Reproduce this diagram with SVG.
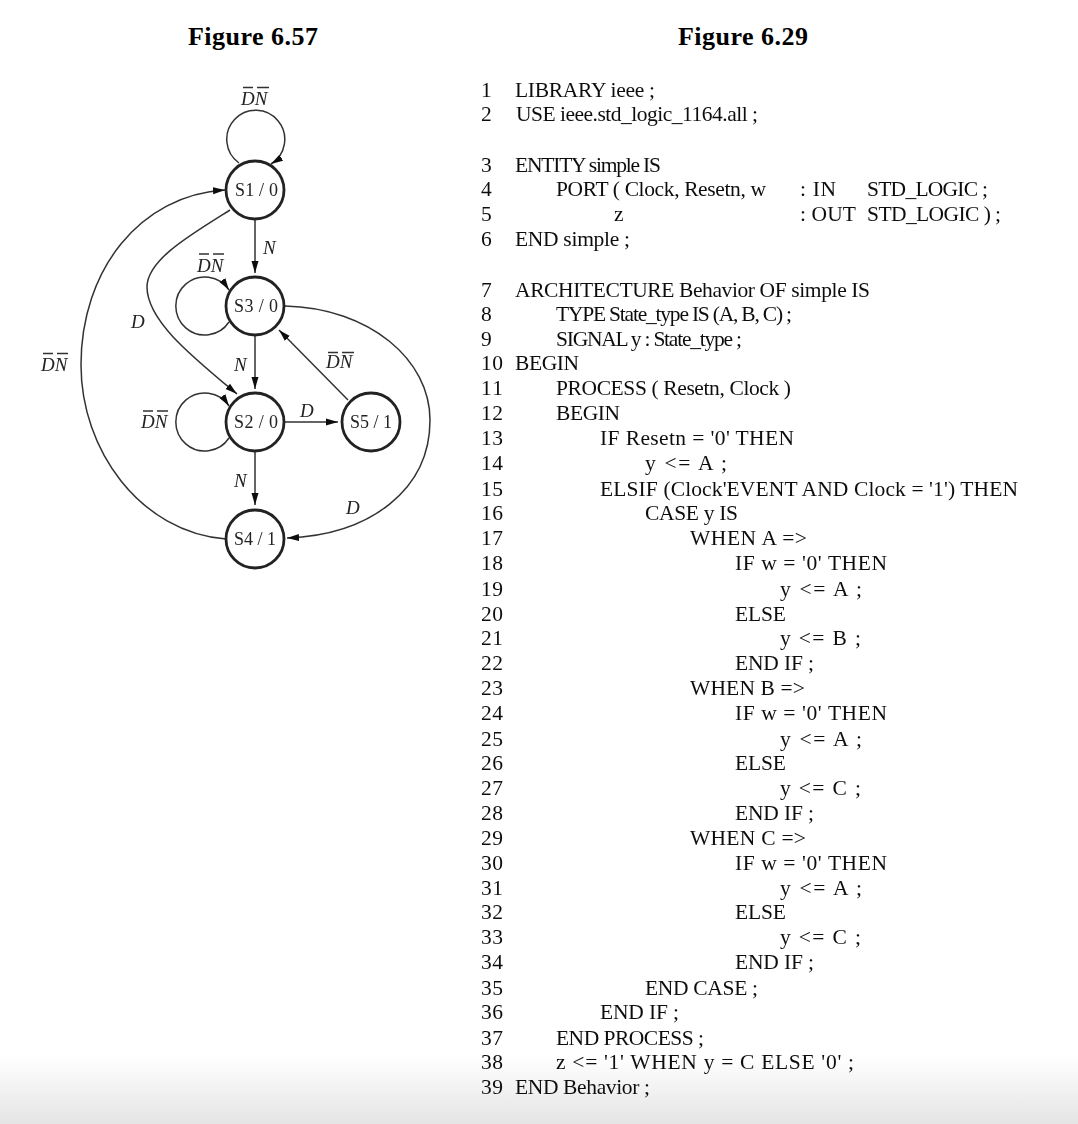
<svg xmlns="http://www.w3.org/2000/svg" width="1078" height="1124" viewBox="0 0 1078 1124">
<style>
text{font-family:"Liberation Serif","Times New Roman",serif;fill:#111}
.t{font-size:26px;font-weight:bold;fill:#000}
.c{font-size:21.500px}
.n{font-size:18px;fill:#222}
.i{font-size:19px;font-style:italic;fill:#222}
.s{fill:#fff;stroke:#222;stroke-width:2.8}
.e{fill:none;stroke:#333;stroke-width:1.5}
.b{stroke:#333;stroke-width:1.4}
.soft{filter:url(#soft)}
</style>
<defs>
<filter id="soft" x="0" y="0" width="1" height="1" filterUnits="objectBoundingBox"><feGaussianBlur stdDeviation="0.35"/></filter>
<linearGradient id="fade" x1="0" y1="0" x2="0" y2="1"><stop offset="0" stop-color="#fff"/><stop offset="1" stop-color="#e4e4e4"/></linearGradient>
<marker id="a" markerUnits="userSpaceOnUse" markerWidth="14" markerHeight="10" refX="12" refY="4" orient="auto"><path d="M0 0.500L12 4L0 7.500Z" fill="#111"/></marker>
</defs>
<rect width="1078" height="1124" fill="#fff"/>
<rect y="1056" width="1078" height="68" fill="url(#fade)"/>
<text class="t" x="188" y="45" textLength="130">Figure 6.57</text>
<text class="t" x="678" y="45" textLength="130">Figure 6.29</text>
<g class="soft">
<g id="connectors">
<path class="e" d="M239 163A29 29 0 1 1 271 164" marker-end="url(#a)"/>
<path class="e" d="M229 322A29 29 0 1 1 229 290" marker-end="url(#a)"/>
<path class="e" d="M229 438A29 29 0 1 1 229 406" marker-end="url(#a)"/>
<path class="e" d="M255 219V273" marker-end="url(#a)"/>
<path class="e" d="M255 335V389" marker-end="url(#a)"/>
<path class="e" d="M255 451V505" marker-end="url(#a)"/>
<path class="e" d="M285 422H338" marker-end="url(#a)"/>
<path class="e" d="M348 400L279 330" marker-end="url(#a)"/>
<path class="e" d="M226 539C140 532 81 450 81 365C81 270 140 195 225 190" marker-end="url(#a)"/>
<path class="e" d="M230 210C190 235 147 260 147 287C147 320 190 355 237 394" marker-end="url(#a)"/>
<path class="e" d="M285 306C370 308 430 360 430 420C430 490 370 535 287 538" marker-end="url(#a)"/>
</g>
<g id="S1"><circle class="s" cx="255" cy="190" r="29"/><text class="n" x="235" y="196" textLength="43">S1 / 0</text></g>
<g id="S3"><circle class="s" cx="255" cy="306" r="29"/><text class="n" x="234" y="312" textLength="44">S3 / 0</text></g>
<g id="S2"><circle class="s" cx="255" cy="422" r="29"/><text class="n" x="234" y="428" textLength="44">S2 / 0</text></g>
<g id="S5"><circle class="s" cx="371" cy="422" r="29"/><text class="n" x="350" y="428" textLength="42">S5 / 1</text></g>
<g id="S4"><circle class="s" cx="255" cy="539" r="29"/><text class="n" x="234" y="545" textLength="42">S4 / 1</text></g>
<g id="labels">
<text class="i" x="241" y="105">DN</text><path class="b" d="M243 87.500H253M257 87.500H269"/>
<text class="i" x="197" y="272">DN</text><path class="b" d="M199 254H209M213 254H224"/>
<text class="i" x="41" y="371">DN</text><path class="b" d="M43 353.500H53M57 353.500H68"/>
<text class="i" x="326" y="368">DN</text><path class="b" d="M328 352.500H338M342 352.500H354"/>
<text class="i" x="141" y="428">DN</text><path class="b" d="M143 411H153M157 411H168"/>
<text class="i" x="263" y="254">N</text>
<text class="i" x="234" y="371">N</text>
<text class="i" x="234" y="487">N</text>
<text class="i" x="131" y="328">D</text>
<text class="i" x="300" y="417">D</text>
<text class="i" x="346" y="514">D</text>
</g>
<g id="code">
<text class="c" x="481" y="97">1</text><text class="c" x="515" y="97" textLength="140">LIBRARY ieee ;</text>
<text class="c" x="481" y="121">2</text><text class="c" x="516" y="121" textLength="242">USE ieee.std_logic_1164.all ;</text>
<text class="c" x="481" y="172">3</text><text class="c" x="515" y="172" textLength="146">ENTITY simple IS</text>
<text class="c" x="481" y="196">4</text><text class="c" x="556" y="196" textLength="210">PORT ( Clock, Resetn, w</text><text class="c" x="800" y="196" textLength="36">: IN</text><text class="c" x="867" y="196" textLength="121">STD_LOGIC ;</text>
<text class="c" x="481" y="221">5</text><text class="c" x="614" y="221">z</text><text class="c" x="800" y="221" textLength="56">: OUT</text><text class="c" x="867" y="221" textLength="134">STD_LOGIC ) ;</text>
<text class="c" x="481" y="246">6</text><text class="c" x="515" y="246" textLength="115">END simple ;</text>
<text class="c" x="481" y="297">7</text><text class="c" x="515" y="297" textLength="355">ARCHITECTURE Behavior OF simple IS</text>
<text class="c" x="481" y="321">8</text><text class="c" x="556" y="321" textLength="236">TYPE State_type IS (A, B, C) ;</text>
<text class="c" x="481" y="346">9</text><text class="c" x="556" y="346" textLength="186">SIGNAL y : State_type ;</text>
<text class="c" x="481" y="370" textLength="22">10</text><text class="c" x="515" y="370" textLength="64">BEGIN</text>
<text class="c" x="481" y="395" textLength="22">11</text><text class="c" x="556" y="395" textLength="235">PROCESS ( Resetn, Clock )</text>
<text class="c" x="481" y="420" textLength="22">12</text><text class="c" x="556" y="420" textLength="64">BEGIN</text>
<text class="c" x="481" y="445" textLength="22">13</text><text class="c" x="600" y="445" textLength="194">IF Resetn = '0' THEN</text>
<text class="c" x="481" y="470" textLength="22">14</text><text class="c" x="645" y="470" textLength="82">y &lt;= A ;</text>
<text class="c" x="481" y="496" textLength="22">15</text><text class="c" x="600" y="496" textLength="418">ELSIF (Clock'EVENT AND Clock = '1') THEN</text>
<text class="c" x="481" y="520" textLength="22">16</text><text class="c" x="645" y="520" textLength="93">CASE y IS</text>
<text class="c" x="481" y="545" textLength="22">17</text><text class="c" x="690" y="545" textLength="117">WHEN A =&gt;</text>
<text class="c" x="481" y="570" textLength="22">18</text><text class="c" x="735" y="570" textLength="152">IF w = '0' THEN</text>
<text class="c" x="481" y="596" textLength="22">19</text><text class="c" x="780" y="596" textLength="82">y &lt;= A ;</text>
<text class="c" x="481" y="621" textLength="22">20</text><text class="c" x="735" y="621" textLength="51">ELSE</text>
<text class="c" x="481" y="645" textLength="22">21</text><text class="c" x="780" y="645" textLength="81">y &lt;= B ;</text>
<text class="c" x="481" y="670" textLength="22">22</text><text class="c" x="735" y="670" textLength="79">END IF ;</text>
<text class="c" x="481" y="695" textLength="22">23</text><text class="c" x="690" y="695" textLength="115">WHEN B =&gt;</text>
<text class="c" x="481" y="720" textLength="22">24</text><text class="c" x="735" y="720" textLength="152">IF w = '0' THEN</text>
<text class="c" x="481" y="746" textLength="22">25</text><text class="c" x="780" y="746" textLength="82">y &lt;= A ;</text>
<text class="c" x="481" y="770" textLength="22">26</text><text class="c" x="735" y="770" textLength="51">ELSE</text>
<text class="c" x="481" y="795" textLength="22">27</text><text class="c" x="780" y="795" textLength="81">y &lt;= C ;</text>
<text class="c" x="481" y="820" textLength="22">28</text><text class="c" x="735" y="820" textLength="79">END IF ;</text>
<text class="c" x="481" y="845" textLength="22">29</text><text class="c" x="690" y="845" textLength="116">WHEN C =&gt;</text>
<text class="c" x="481" y="870" textLength="22">30</text><text class="c" x="735" y="870" textLength="152">IF w = '0' THEN</text>
<text class="c" x="481" y="895" textLength="22">31</text><text class="c" x="780" y="895" textLength="82">y &lt;= A ;</text>
<text class="c" x="481" y="919" textLength="22">32</text><text class="c" x="735" y="919" textLength="51">ELSE</text>
<text class="c" x="481" y="944" textLength="22">33</text><text class="c" x="780" y="944" textLength="81">y &lt;= C ;</text>
<text class="c" x="481" y="969" textLength="22">34</text><text class="c" x="735" y="969" textLength="79">END IF ;</text>
<text class="c" x="481" y="995" textLength="22">35</text><text class="c" x="645" y="995" textLength="113">END CASE ;</text>
<text class="c" x="481" y="1019" textLength="22">36</text><text class="c" x="600" y="1019" textLength="79">END IF ;</text>
<text class="c" x="481" y="1045" textLength="22">37</text><text class="c" x="556" y="1045" textLength="148">END PROCESS ;</text>
<text class="c" x="481" y="1069" textLength="22">38</text><text class="c" x="556" y="1069" textLength="298">z &lt;= '1' WHEN y = C ELSE '0' ;</text>
<text class="c" x="481" y="1094" textLength="22">39</text><text class="c" x="515" y="1094" textLength="135">END Behavior ;</text>
</g>
</g>
</svg>
